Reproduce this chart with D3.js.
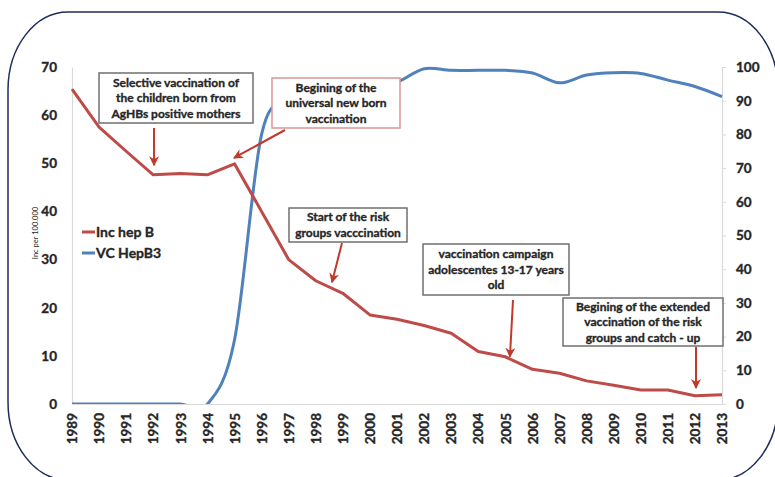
<!DOCTYPE html>
<html>
<head>
<meta charset="utf-8">
<script src="https://cdn.jsdelivr.net/npm/d3@7"></script>
<style>
  body { margin: 0; background: #fff; }
  svg { display: block; }
  text { font-family: Lato, "Open Sans", sans-serif; font-weight: bold; fill: #262626; }
  text.heavy { stroke: #262626; stroke-width: 0.35px; }
</style>
</head>
<body>
<div id="chart"></div>
<script>
// --- Data ---
const years = [1989, 1990, 1991, 1992, 1993, 1994, 1995, 1996, 1997, 1998, 1999, 2000,
  2001, 2002, 2003, 2004, 2005, 2006, 2007, 2008, 2009, 2010, 2011, 2012, 2013];
// incidence per 100.000 (left axis)
const incHepB = [65.4, 57.5, 52.5, 47.6, 47.9, 47.6, 49.9, 40.0, 30.0, 25.6, 23.0, 18.5,
  17.6, 16.3, 14.7, 10.9, 9.8, 7.2, 6.4, 4.8, 3.9, 2.9, 2.9, 1.7, 1.9];
// HepB3 coverage % (right axis)
const vcHepB3 = [0, 0, 0, 0, 0, 0, 19, 80, 90, 92, 93, 94,
  95.5, 99.5, 99, 99, 99, 98.2, 95.3, 97.6, 98.3, 98.1, 96.1, 94.2, 91.2];
const leftTicks = [0, 10, 20, 30, 40, 50, 60, 70];
const rightTicks = [0, 10, 20, 30, 40, 50, 60, 70, 80, 90, 100];
const seriesNames = ["Inc hep B", "VC HepB3"];

// --- Layout ---
const W = 775, H = 477;
const PLOT = { left: 72, right: 722, top: 67, bottom: 404 };
const RED = "#be4b48", BLUE = "#4f81bd", AXIS = "#d9d9d9";

// annotation boxes (pixels) and arrows: from pixel start to data-coordinate tip
const notes = [
  { lines: ["Selective vaccination of", "the children born from", "AgHBs positive mothers"],
    box: [99, 73, 154, 50], border: "#6f6f6f", from: [154, 128], tip: [1992.03, 49.6] },
  { lines: ["Begining of the", "universal new born", "vaccination"],
    box: [272, 78, 128, 50], border: "#d99694", from: [285, 130], tip: [1994.98, 51.1] },
  { lines: ["Start of the risk", "groups vacccination"],
    box: [289, 208, 118, 34], border: "#6f6f6f", from: [342, 243], tip: [1998.6, 25.3] },
  { lines: ["vaccination campaign", "adolescentes 13-17 years", "old"],
    box: [423, 244, 146, 51], border: "#6f6f6f", from: [513, 300], tip: [2005.17, 9.8] },
  { lines: ["Begining of the extended", "vaccination of the risk", "groups and catch - up"],
    box: [563, 298, 160, 48], border: "#6f6f6f", from: [696, 347], tip: [2012.04, 3.3] }
];

const svg = d3.select("#chart").append("svg").attr("width", W).attr("height", H);

// rounded frame
svg.append("rect")
  .attr("x", 8).attr("y", 12).attr("width", 770).attr("height", 468)
  .attr("rx", 60).attr("ry", 78)
  .attr("fill", "none").attr("stroke", "#1f2d5c").attr("stroke-width", 1.5);

// --- Scales ---
const x = d3.scaleLinear().domain([1989, 2013]).range([PLOT.left, PLOT.right]);
const yL = d3.scaleLinear().domain([0, 70]).range([PLOT.bottom, PLOT.top]);
const yR = d3.scaleLinear().domain([0, 100]).range([PLOT.bottom, PLOT.top]);

// --- Axes ---
const gL = svg.append("g").attr("transform", `translate(${PLOT.left},0)`)
  .call(d3.axisLeft(yL).tickValues(leftTicks).tickSize(0).tickSizeOuter(0).tickPadding(15));
const gR = svg.append("g").attr("transform", `translate(${PLOT.right},0)`)
  .call(d3.axisRight(yR).tickValues(rightTicks).tickSize(4).tickSizeOuter(0).tickPadding(10));
const gB = svg.append("g").attr("transform", `translate(0,${PLOT.bottom})`)
  .call(d3.axisBottom(x).tickValues(years).tickFormat(d => String(d)).tickSize(0).tickSizeOuter(0));

[gL, gR, gB].forEach(g => {
  g.select(".domain").attr("stroke", AXIS).attr("stroke-width", 1.2);
  g.selectAll(".tick line").attr("stroke", AXIS);
  g.selectAll("text").attr("font-family", null).attr("font-size", null)
    .attr("class", "heavy")
    .style("font-size", "13.5px").style("fill", "#262626");
});
gB.selectAll("text")
  .attr("x", -9).attr("y", 0).attr("dy", "0.35em")
  .attr("transform", "rotate(-90)")
  .style("text-anchor", "end");

// y title
svg.append("text")
  .attr("transform", `translate(38,233) rotate(-90)`)
  .attr("text-anchor", "middle")
  .style("font-size", "7.5px").style("font-weight", "normal")
  .text("Inc per 100.000");

// --- Lines ---
svg.append("clipPath").attr("id", "plotClip")
  .append("rect").attr("x", PLOT.left).attr("y", 0)
  .attr("width", PLOT.right - PLOT.left + 2).attr("height", PLOT.bottom);

const redLine = d3.line().x((d, i) => x(years[i])).y(d => yL(d));
const blueLine = d3.line().x((d, i) => x(years[i])).y(d => yR(d))
  .curve(d3.curveCardinal.tension(0));

svg.append("path").datum(vcHepB3)
  .attr("clip-path", "url(#plotClip)")
  .attr("d", blueLine).attr("fill", "none")
  .attr("stroke", BLUE).attr("stroke-width", 3);

svg.append("path").datum(incHepB)
  .attr("d", redLine).attr("fill", "none")
  .attr("stroke", RED).attr("stroke-width", 3).attr("stroke-linejoin", "round");

// --- Legend ---
const legend = svg.append("g");
[RED, BLUE].forEach((c, i) => {
  const ly = 232 + i * 21;
  legend.append("line").attr("x1", 82).attr("x2", 95).attr("y1", ly).attr("y2", ly)
    .attr("stroke", c).attr("stroke-width", 3);
  legend.append("text").attr("class", "heavy")
    .attr("x", 96).attr("y", ly).attr("dy", "0.35em")
    .style("font-size", "14px").text(seriesNames[i]);
});

// --- Annotations ---
svg.append("defs").append("marker")
  .attr("id", "arrow").attr("viewBox", "0 0 10 10")
  .attr("refX", 9).attr("refY", 5)
  .attr("markerWidth", 5).attr("markerHeight", 5).attr("orient", "auto")
  .append("path").attr("d", "M0,0 L10,5 L0,10 L3,5 Z").attr("fill", "#c0392b");

notes.forEach((n, k) => {
  const [bx, by, bw, bh] = n.box;
  const g = svg.append("g");
  g.append("clipPath").attr("id", "noteClip" + k)
    .append("rect").attr("x", bx).attr("y", by).attr("width", bw).attr("height", bh);
  g.append("rect").attr("x", bx).attr("y", by).attr("width", bw).attr("height", bh)
    .attr("fill", "#fff").attr("stroke", n.border).attr("stroke-width", 1.5);
  const lh = 15.5;
  const y0 = by + bh / 2 - (n.lines.length - 1) * lh / 2;
  const t = g.append("text").attr("class", "heavy").attr("clip-path", `url(#noteClip${k})`)
    .attr("text-anchor", "middle").style("font-size", "12px");
  n.lines.forEach((s, i) => {
    t.append("tspan").attr("x", bx + bw / 2).attr("y", y0 + i * lh).attr("dy", "0.35em").text(s);
  });
  svg.append("line")
    .attr("x1", n.from[0]).attr("y1", n.from[1])
    .attr("x2", x(n.tip[0])).attr("y2", yL(n.tip[1]))
    .attr("stroke", "#c0392b").attr("stroke-width", 2)
    .attr("marker-end", "url(#arrow)");
});
</script>
</body>
</html>
